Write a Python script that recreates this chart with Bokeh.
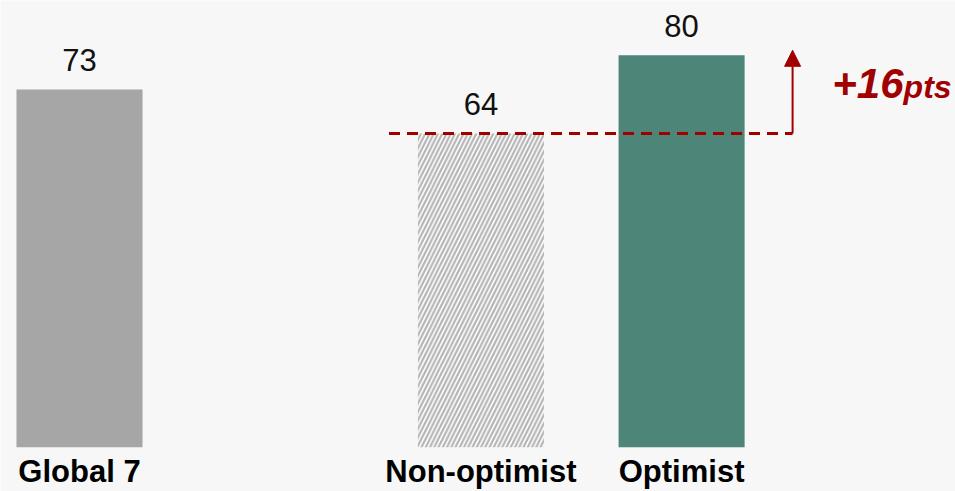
from bokeh.plotting import figure
from bokeh.models import ColumnDataSource, Range1d, Arrow, NormalHead
from bokeh.embed import file_html
from bokeh.resources import INLINE
from bokeh.core.properties import value

# ---- data ----
categories = ["Global 7", "Non-optimist", "Optimist"]
values = [73, 64, 80]
slot_order = ["Global 7", "", "Non-optimist", "Optimist"]   # "" = empty gap slot

diff = values[2] - values[1]
diff_label_num = f"+{diff}"
diff_label_unit = "pts"

# ---- styles ----
BG = "#f7f7f7"
GREY = "#a6a6a6"
TEAL = "#4d8579"
RED = "#a00000"
HATCH_GREY = "#b4b4b4"
FONT = "Liberation Sans"

W, H = 955, 491
slots = [slot_order.index(c) for c in categories]

p = figure(width=W, height=H, output_backend="svg", toolbar_location=None,
           x_range=Range1d(-0.3936, 4.3647), y_range=Range1d(-9.04, 91.16),
           x_axis_location=None, y_axis_location=None,
           min_border_left=0, min_border_right=0, min_border_top=0, min_border_bottom=0)
p.background_fill_color = BG
p.border_fill_color = BG
p.outline_line_color = None
p.xgrid.visible = False
p.ygrid.visible = False

bar_w = 0.628
# Global 7
p.vbar(x=[slots[0]], top=[values[0]], bottom=0, width=bar_w, fill_color=GREY, line_color=None)
# Non-optimist (hatched)
p.vbar(x=[slots[1]], top=[values[1]], bottom=0, width=bar_w, fill_color="white", line_color=None,
       hatch_pattern="/", hatch_color=HATCH_GREY, hatch_scale=8.5, hatch_weight=2.2)
# Optimist
p.vbar(x=[slots[2]], top=[values[2]], bottom=0, width=bar_w, fill_color=TEAL, line_color=None)

src = ColumnDataSource(dict(x=slots, y=values, lab=[str(v) for v in values], cat=categories,
                            zero=[0] * len(values)))
p.text(x="x", y="y", text="lab", source=src, text_align="center", text_baseline="alphabetic",
       y_offset=-29.5, text_font=value(FONT), text_font_size="31px", text_color="#111111")
p.text(x="x", y="zero", text="cat", source=src, text_align="center", text_baseline="alphabetic",
       y_offset=24, text_font=value(FONT), text_font_size="31px", text_font_style="bold",
       text_color="#000000")

# dashed reference line at Non-optimist level, reaching past Optimist bar
x_start = slots[1] - 0.458
x_end = slots[2] + 0.553
p.line(x=[x_start, x_end], y=[values[1], values[1]], line_color=RED, line_width=3,
       line_dash="11 7")

# arrow up to Optimist level
p.add_layout(Arrow(x_start=x_end, y_start=values[1], x_end=x_end, y_end=values[2] + 1,
                   line_color=RED, line_width=2,
                   end=NormalHead(size=16, fill_color=RED, line_color=RED, line_width=1)))

tx = slots[2] + 1.106
ty = values[1] + diff * 0.435
p.text(x=[tx], y=[ty], text=[diff_label_num], text_align="right", text_baseline="alphabetic",
       y_offset=-15.5, text_font=value(FONT), text_font_size="42px", text_font_style="bold italic",
       text_color=RED)
p.text(x=[tx], y=[ty], text=[diff_label_unit], text_align="left", text_baseline="alphabetic",
       y_offset=-12, text_font=value(FONT), text_font_size="32px", text_font_style="bold italic",
       text_color=RED)

open("out.html", "w").write(file_html(p, INLINE))
